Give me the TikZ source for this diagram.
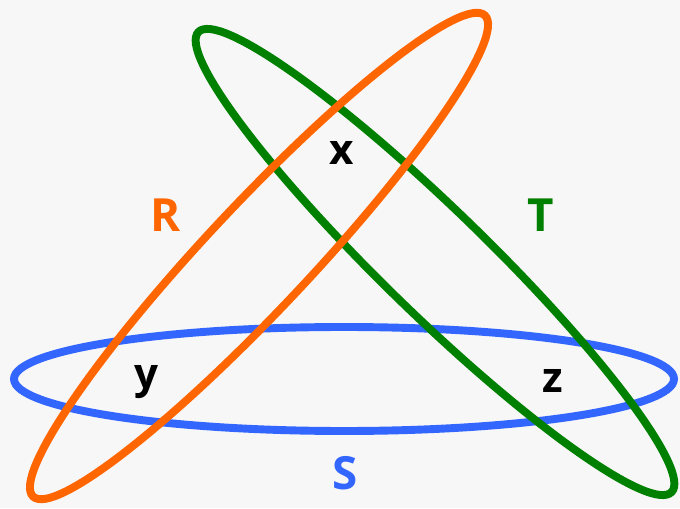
\documentclass[tikz,border=0pt]{standalone}
\usepackage{fontspec}
\setmainfont{Open Sans}
\usepackage{tikz}
\definecolor{setblue}{RGB}{51,102,255}
\definecolor{setgreen}{RGB}{0,128,0}
\definecolor{setorange}{RGB}{255,102,0}
\definecolor{bggray}{RGB}{247,247,247}
\tikzset{
  setring/.style={line width=4.5pt},
  setname/.style={font=\fontsize{26}{30}\selectfont\bfseries},
  elem/.style={font=\fontsize{24}{28}\selectfont\bfseries, text=black},
}
\begin{document}
\begin{tikzpicture}
\fill[bggray] (0,0) rectangle (13.6,10.16);
\useasboundingbox (0,0) rectangle (13.6,10.16);
% the three sets
\draw[setring, setblue] (6.88,2.58) ellipse [x radius=6.6, y radius=1.04];
\draw[setring, setgreen, rotate around={-44.2:(8.70,4.92)}] (8.70,4.92) ellipse [x radius=6.6, y radius=1.04];
\draw[setring, setorange, rotate around={46.8:(5.18,5.04)}] (5.18,5.04) ellipse [x radius=6.6, y radius=1.04];
% set names
\node[setname, text=setorange] (R) at (3.32,5.86) {R};
\node[setname, text=setgreen] (T) at (10.82,5.86) {T};
\node[setname, text=setblue] (S) at (6.90,0.70) {S};
% elements
\node[elem] (x) at (6.84,7.10) {x};
\node[elem] (y) at (2.92,2.52) {y};
\node[elem] (z) at (11.06,2.54) {z};
\end{tikzpicture}
\end{document}
